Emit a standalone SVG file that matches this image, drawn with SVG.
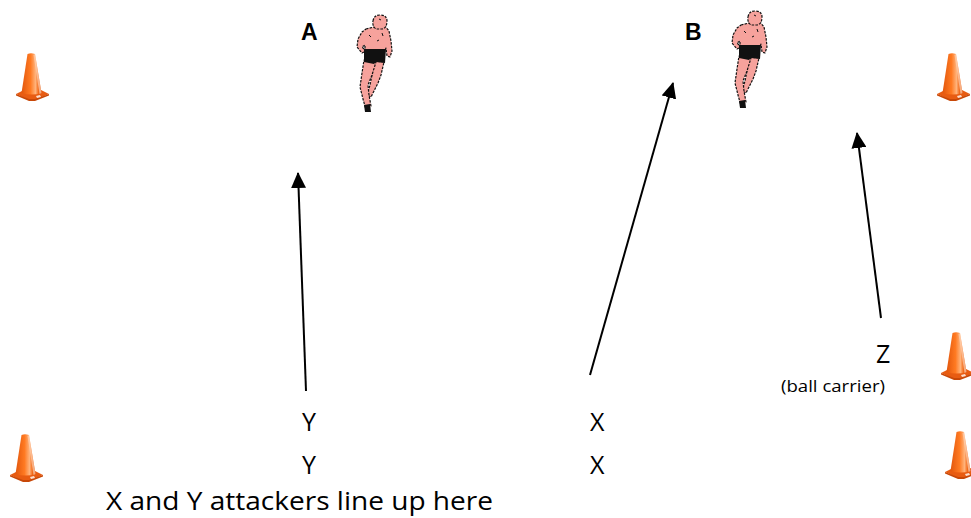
<svg xmlns="http://www.w3.org/2000/svg" xmlns:xlink="http://www.w3.org/1999/xlink" width="971" height="518" viewBox="0 0 971 518">
  <style>
    .lbl { font-family: "Liberation Sans", Arial, sans-serif; font-weight: bold; font-size: 23px; fill: #000; }
    .txt { font-family: "Open Sans", "Noto Sans", sans-serif; font-size: 25px; fill: #000; }
    .small { font-family: "Open Sans", "Noto Sans", sans-serif; font-size: 16px; fill: #000; }
    .conn { stroke: #000; stroke-width: 2; fill: none; marker-end: url(#head); }
    .skin { fill: #f6a29c; stroke: #111; stroke-width: 1.2; stroke-dasharray: 2.5 1.2; stroke-linejoin: round; }
  </style>
  <defs>
    <marker id="head" viewBox="0 0 16 15" refX="15" refY="7.5" markerWidth="16" markerHeight="15" markerUnits="userSpaceOnUse" orient="auto">
      <path d="M0,0 L16,7.5 L0,15 z" fill="#000"/>
    </marker>
    <linearGradient id="coneBody" x1="0" y1="0" x2="1" y2="0">
      <stop offset="0" stop-color="#e2560c"/>
      <stop offset="0.45" stop-color="#ff7a22"/>
      <stop offset="0.7" stop-color="#ffb27a"/>
      <stop offset="0.85" stop-color="#f26a1a"/>
      <stop offset="1" stop-color="#d34c08"/>
    </linearGradient>
    <!-- traffic cone, 34 x 48 -->
    <g id="cone">
      <path d="M1,41 L9,37 L26,37 L34,41 L20,47 L14,47 z" fill="#e85c12"/>
      <path d="M1,41 L14,46 L20,46 L34,41 L34,42.5 L20,48 L14,48 L1,42.5 z" fill="#c84808"/>
      <path d="M12.5,1 Q16,-0.5 20,1 L26.5,40 Q17,43 6.5,40 z" fill="url(#coneBody)"/>
      <path d="M20,1 L26.5,40 L24.5,41 L18.5,2 z" fill="#ffd0b0" opacity="0.7"/>
      <path d="M21,43 L25,42 L26,44 L22,45 z" fill="#ffffff" opacity="0.8"/>
    </g>
    <!-- running figure, 35 x 97 -->
    <g id="runner">
      <!-- back leg -->
      <path class="skin" d="M17,46 L27,47 L24,60 L21,68 L17,76 L14,82 L10,80 L13,70 L15,60 z"/>
      <!-- front leg -->
      <path class="skin" d="M7,45 L19,47 L15,60 L11,70 L12,80 L14,91 L9,95 L6,84 L3,72 L5,58 z"/>
      <path d="M7,90 L13,89 L14,97 L8,97 z" fill="#111"/>
      <!-- torso with arms -->
      <path class="skin" d="M9,14 L17,12 L28,11 L32,16 L34,26 L35,36 L33,42 L30,41 L29,33 L27,38 L8,38 L8,30 L5,32 L9,36 L5,38 L0,32 L1,24 L5,17 z"/>
      <!-- head -->
      <path class="skin" d="M16,6 Q17,0 23,0 Q30,0 30,6 Q30,13 25,14 L19,14 Q15,11 16,6 z"/>
      <!-- shorts -->
      <path d="M7,34 L29,34 L28,48 L19,47 L17,49 L7,47 z" fill="#111"/>
      <path d="M12,20 L14,22 M20,26 L22,25 M25,18 L26,21 M22,4 L24,5" stroke="#111" stroke-width="1"/>
    </g>
  </defs>

  <g id="cones">
    <use xlink:href="#cone" x="15" y="53"/>
    <use xlink:href="#cone" x="9" y="434"/>
    <use xlink:href="#cone" x="936" y="53"/>
    <use xlink:href="#cone" x="940" y="332"/>
    <use xlink:href="#cone" x="944" y="431"/>
  </g>

  <g id="defenderA">
    <text class="lbl" x="301" y="40">A</text>
    <use xlink:href="#runner" x="357" y="15"/>
  </g>
  <g id="defenderB">
    <text class="lbl" x="685" y="40">B</text>
    <use xlink:href="#runner" x="732" y="11"/>
  </g>

  <g id="attackerY1"><text class="txt" x="302" y="431">Y</text></g>
  <g id="attackerY2"><text class="txt" x="302" y="474">Y</text></g>
  <g id="attackerX1"><text class="txt" x="590" y="431">X</text></g>
  <g id="attackerX2"><text class="txt" x="590" y="474">X</text></g>
  <g id="ballCarrierZ">
    <text class="txt" x="876" y="363">Z</text>
    <text class="small" x="781" y="392" textLength="104" lengthAdjust="spacingAndGlyphs">(ball carrier)</text>
  </g>
  <g id="lineUpNote">
    <text class="txt" x="106" y="510" textLength="387" lengthAdjust="spacingAndGlyphs">X and Y attackers line up here</text>
  </g>

  <g id="connectors">
    <line class="conn" x1="306" y1="391" x2="298" y2="173"/>
    <line class="conn" x1="590" y1="375" x2="673" y2="83"/>
    <line class="conn" x1="881" y1="318" x2="857" y2="133"/>
  </g>
</svg>
